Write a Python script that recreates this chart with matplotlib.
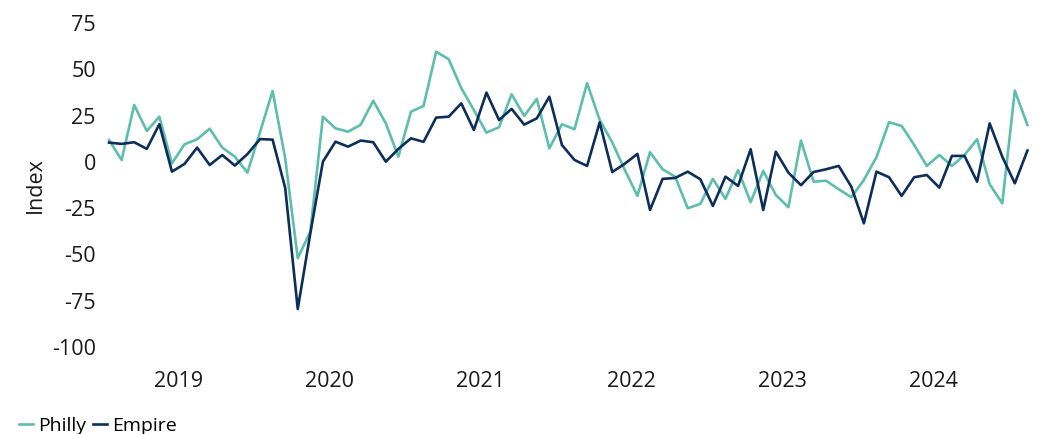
#!/usr/bin/env python
# -*- coding: UTF-8 -*-
# Philly Fed vs Empire State manufacturing index

import pandas as pd
import matplotlib as mpl
import matplotlib.pyplot as plt
plt.switch_backend('agg')
plt.rcParams['font.family'] = ['Open Sans', 'DejaVu Sans']

# monthly readings, Jan 2019 .. Feb 2025
months = pd.date_range(start='2019-01-01', periods=74, freq='MS')

philly = [11.8, 1.0, 30.7, 16.7, 24.4, -0.8, 9.5, 12.2, 17.9, 7.7, 2.8, -5.8,
          16.0, 38.3, 2.0, -52.0, -37.7, 24.4, 18.1, 16.3, 20.0, 33.0, 20.8, 2.8,
          27.1, 30.2, 59.5, 55.4, 39.8, 28.0, 15.8, 18.7, 36.5, 24.8, 34.0, 7.3,
          20.3, 17.6, 42.5, 22.6, 10.5, -4.4, -18.4, 5.2, -4.0, -8.0, -25.1, -22.7,
          -9.2, -20.0, -4.4, -21.8, -4.9, -17.9, -24.5, 11.5, -10.7, -10.2, -14.8, -19.1,
          -9.8, 2.5, 21.4, 19.4, 9.1, -2.2, 3.7, -2.2, 3.7, 12.2, -12.1, -22.4,
          38.5, 19.9]

empire = [10.4, 9.7, 10.6, 7.0, 20.3, -5.3, -1.1, 7.7, -1.7, 3.7, -2.0, 4.2,
          12.3, 12.0, -14.0, -79.5, -38.6, 0.1, 10.9, 8.2, 11.5, 10.6, 0.1, 7.0,
          12.7, 10.8, 23.9, 24.4, 31.6, 17.2, 37.4, 22.6, 28.6, 20.1, 23.5, 35.2,
          9.1, 1.0, -2.2, 21.3, -5.5, -1.0, 4.3, -26.0, -9.2, -8.7, -5.3, -9.4,
          -23.8, -8.0, -13.0, 6.8, -26.0, 5.5, -5.8, -12.6, -5.5, -4.0, -2.2, -13.4,
          -33.2, -5.3, -8.3, -18.4, -8.3, -7.1, -13.9, 3.2, 3.2, -10.7, 20.8, 2.8,
          -11.6, 6.1]

years = ['2019', '2020', '2021', '2022', '2023', '2024']
yticks = [75, 50, 25, 0, -25, -50, -75, -100]

data = pd.DataFrame({'Philly': philly, 'Empire': empire}, index=months)

fig = plt.figure(figsize=(10.41, 4.34), dpi=100)
ax = fig.add_axes([0.0987, 0.2005, 0.8943, 0.7465])

pos = range(len(data))
ax.plot(pos, data['Philly'], color='#5cbfac', lw=1.9, label='Philly')
ax.plot(pos, data['Empire'], color='#0d2d5c', lw=1.9, label='Empire')

#-- axes: category style, half a month of padding each side
ax.set_xlim(-0.5, len(data) - 0.5)
ax.set_ylim(-100, 75)
ax.set_yticks(yticks)
ax.set_yticklabels([str(v) for v in yticks])
ax.set_xticks([5.5 + 12 * i for i in range(len(years))])
ax.set_xticklabels(years)
ax.tick_params(axis='both', length=0, labelsize=15.5, colors='#1a1a1a')
ax.tick_params(axis='x', pad=17)
ax.tick_params(axis='y', pad=5)
for s in ax.spines.values():
    s.set_visible(False)
ax.set_ylabel('Index', fontsize=15.5, color='#1a1a1a', labelpad=4)

fig.legend(loc='lower left', bbox_to_anchor=(0.011, -0.02), borderaxespad=0,
           ncol=2, frameon=False, fontsize=14, handlelength=0.72,
           handletextpad=0.26, columnspacing=0.35)

plt.savefig('out.png', dpi=100)
plt.close()
